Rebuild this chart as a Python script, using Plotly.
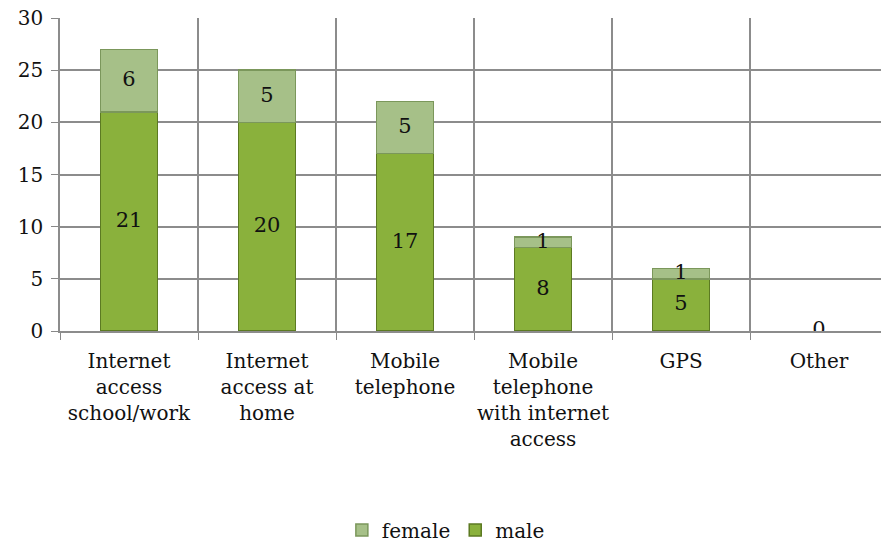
import plotly.graph_objects as go

categories = [
    "Internet<br>access<br>school/work",
    "Internet<br>access at<br>home",
    "Mobile<br>telephone",
    "Mobile<br>telephone<br>with internet<br>access",
    "GPS",
    "Other",
]
male = [21, 20, 17, 8, 5, 0]
female = [6, 5, 5, 1, 1, 0]
y_ticks = [0, 5, 10, 15, 20, 25, 30]

FONT = "DejaVu Serif"
male_fill = "#8AB13C"
male_edge = "#5C7A22"
female_fill = "#A6C088"
female_edge = "#7B975B"

fig = go.Figure()
fig.add_trace(go.Bar(
    x=categories, y=male, name="male", width=0.41,
    marker=dict(color=male_fill,
                line=dict(color=male_edge, width=[1.5 if v > 0 else 0 for v in male])),
    hoverinfo="skip",
))
fig.add_trace(go.Bar(
    x=categories, y=female, name="female", width=0.41,
    marker=dict(color=female_fill,
                line=dict(color=female_edge, width=[1.5 if v > 0 else 0 for v in female])),
    hoverinfo="skip",
))

# value labels at the middle of each segment
male_mid = [m / 2 for m in male]
female_mid = [m + f / 2 for m, f in zip(male, female)]
fig.add_trace(go.Scatter(
    x=categories, y=male_mid, mode="text",
    text=[str(v) for v in male], textposition="middle center",
    textfont=dict(family=FONT, size=21, color="#111"),
    showlegend=False, hoverinfo="skip",
))
fig.add_trace(go.Scatter(
    x=[c for c, f in zip(categories, female) if f > 0],
    y=[y for y, f in zip(female_mid, female) if f > 0],
    mode="text",
    text=[str(f) for f in female if f > 0], textposition="middle center",
    textfont=dict(family=FONT, size=21, color="#111"),
    showlegend=False, hoverinfo="skip",
))

fig.update_layout(
    width=881, height=543,
    margin=dict(l=60, r=0, t=18, b=212),
    barmode="stack",
    plot_bgcolor="white", paper_bgcolor="white",
    font=dict(family=FONT, size=20, color="#111"),
    showlegend=True,
    legend=dict(
        orientation="h", x=0.47, xanchor="center",
        yref="container", y=0.024, yanchor="middle",
        traceorder="reversed", font=dict(family=FONT, size=20),
        itemwidth=30, tracegroupgap=0,
    ),
    xaxis=dict(
        range=[-0.5, 5.449],
        tickson="boundaries", ticks="outside", ticklen=7, tickcolor="#888",
        showgrid=True, gridcolor="#8c8c8c", gridwidth=1.5,
        showline=True, linecolor="#8c8c8c", linewidth=1.5,
        tickfont=dict(family=FONT, size=20), tickangle=0,
        ticklabelstandoff=11, automargin=False,
        fixedrange=True,
    ),
    yaxis=dict(
        range=[0, 30], tickvals=y_ticks,
        ticks="outside", ticklen=7, tickcolor="#888",
        showgrid=True, gridcolor="#8c8c8c", gridwidth=1.5,
        showline=True, linecolor="#8c8c8c", linewidth=1.5,
        zeroline=False,
        tickfont=dict(family=FONT, size=20),
        ticklabelstandoff=4, automargin=False,
        fixedrange=True,
    ),
)

fig.write_html("out.html")
